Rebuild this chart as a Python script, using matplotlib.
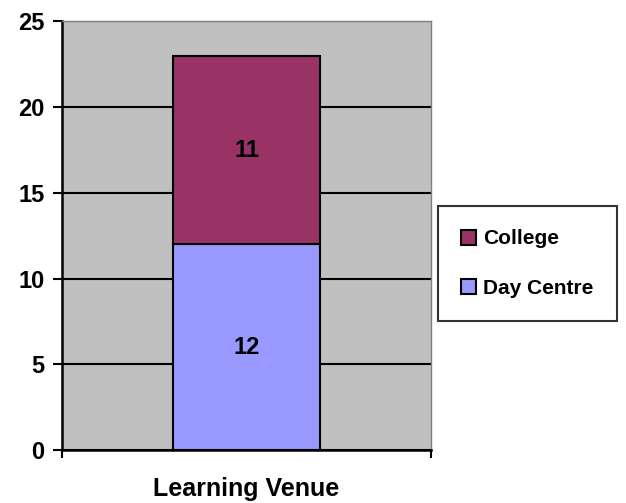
import numpy as np
import matplotlib
matplotlib.use("Agg")
import matplotlib.pyplot as plt

plt.rcParams['font.family'] = ['Liberation Sans', 'DejaVu Sans']
plt.rcParams['font.weight'] = 'bold'

# stacked counts per venue
category = ["Learning Venue"]
series = ["Day Centre", "College"]
values = {"Day Centre": [12], "College": [11]}
colors = {"Day Centre": "#9999FF", "College": "#993366"}
yticks = [0, 5, 10, 15, 20, 25]

fig = plt.figure(figsize=(6.26, 5.03), dpi=100)
ax = fig.add_axes([62/626, 1-450/503, 369/626, 428.5/503])
ax.set_facecolor("#C0C0C0")

x = np.arange(len(category))
bottom = np.zeros(len(category))
bars = {}
for name in series:
    v = np.array(values[name])
    bars[name] = ax.bar(x, v, 0.4, bottom=bottom, color=colors[name],
                        edgecolor="black", linewidth=1.5, zorder=3, label=name)
    for xi, b, vi in zip(x, bottom, v):
        ax.text(xi, b + vi/2, str(vi), ha="center", va="center",
                fontsize=17, fontweight="bold", zorder=4)
    bottom = bottom + v

ax.set_xlim(-0.5, 0.5)
ax.set_ylim(0, 25)
ax.set_yticks(yticks)
ax.set_yticklabels([str(t) for t in yticks], fontsize=17, fontweight="bold")
ax.set_xticks([-0.5, 0.5])
ax.set_xticklabels(["", ""])
ax.tick_params(axis="y", length=6.5, width=1.5, pad=6)
ax.tick_params(axis="x", length=6, width=1.5)
ax.yaxis.grid(True, color="black", linewidth=1.5, zorder=1)
ax.set_axisbelow(True)

for s in ["left", "bottom"]:
    ax.spines[s].set_linewidth(1.8)
    ax.spines[s].set_color("black")
for s in ["top", "right"]:
    ax.spines[s].set_linewidth(1.0)
    ax.spines[s].set_color("#808080")

ax.set_xlabel(category[0], fontsize=18, fontweight="bold", labelpad=10)

handles = [bars["College"], bars["Day Centre"]]
leg = fig.legend(handles, ["College", "Day Centre"], loc="center left",
                 bbox_to_anchor=(438/626, 1-263.5/503), fontsize=15,
                 frameon=True, fancybox=False, shadow=False,
                 handlelength=0.72, handleheight=0.72, handletextpad=0.35,
                 labelspacing=1.45, borderpad=1.1, borderaxespad=0)
leg.get_frame().set_edgecolor("black")
leg.get_frame().set_linewidth(1.5)
for t in leg.get_texts():
    t.set_fontweight("bold")

fig.savefig("out.png", dpi=100)
